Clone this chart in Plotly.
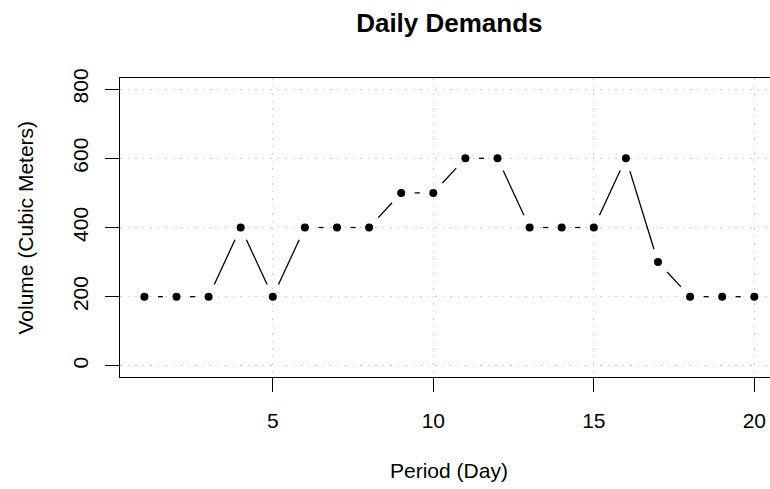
import plotly.graph_objects as go

# Daily demand series
days = list(range(1, 21))
volumes = [200, 200, 200, 400, 200, 400, 400, 400, 500, 500,
           600, 600, 400, 400, 400, 600, 300, 200, 200, 200]
x_ticks = [5, 10, 15, 20]
y_ticks = [0, 200, 400, 600, 800]

# Figure geometry (pixels)
W, H = 770, 489
M_L, M_R, M_T, M_B = 120, 0, 78, 112
PW, PH = W - M_L - M_R, H - M_T - M_B

# Axis ranges with 4% padding on each side
x_lo, x_hi_full = 1 - 0.04 * 19, 20 + 0.04 * 19
px_per_x = 32.1
x_hi = x_lo + PW / px_per_x
y_lo, y_hi = 0 - 0.04 * 800, 800 + 0.04 * 800
px_per_y = PH / (y_hi - y_lo)

# Connecting segments, trimmed near each point (type "b" look)
GAP = 13.5
seg_x, seg_y = [], []
for i in range(len(days) - 1):
    x0, y0, x1, y1 = days[i], volumes[i], days[i + 1], volumes[i + 1]
    dxp = (x1 - x0) * px_per_x
    dyp = (y1 - y0) * px_per_y
    L = (dxp ** 2 + dyp ** 2) ** 0.5
    if L <= 2 * GAP:
        continue
    f = GAP / L
    seg_x += [x0 + (x1 - x0) * f, x1 - (x1 - x0) * f, None]
    seg_y += [y0 + (y1 - y0) * f, y1 - (y1 - y0) * f, None]

fig = go.Figure()
fig.add_trace(go.Scatter(x=seg_x, y=seg_y, mode="lines",
                         line=dict(color="black", width=1.3),
                         hoverinfo="skip", showlegend=False))
fig.add_trace(go.Scatter(x=days, y=volumes, mode="markers",
                         marker=dict(color="black", size=8),
                         showlegend=False))

FONT = "Liberation Sans, Arial, sans-serif"
GRID = dict(showgrid=True, gridcolor="#cfcfcf", griddash="1.5px,6px", gridwidth=1.2)
fig.update_layout(
    width=W, height=H,
    margin=dict(l=M_L, r=M_R, t=M_T, b=M_B, pad=0),
    paper_bgcolor="white", plot_bgcolor="white",
    font=dict(family=FONT, size=21, color="black"),
    title=dict(text="<b>Daily Demands</b>", font=dict(size=26),
               x=(M_L + (x_hi_full - x_lo) * px_per_x / 2) / W,
               xanchor="center", xref="container",
               y=1 - 23 / H, yanchor="middle", yref="container"),
    xaxis=dict(range=[x_lo, x_hi], tickvals=x_ticks, ticks="outside",
               ticklen=14, tickwidth=1, tickcolor="black",
               showline=True, mirror=True, linecolor="black", linewidth=1.2,
               zeroline=False, ticklabelstandoff=11, **GRID),
    yaxis=dict(range=[y_lo, y_hi], tickvals=y_ticks, ticks="outside",
               ticklen=14, tickwidth=1, tickcolor="black", tickangle=-90,
               showline=True, mirror=False, linecolor="black", linewidth=1.2,
               zeroline=False, ticklabelstandoff=9, **GRID),
    annotations=[
        dict(text="Period (Day)", xref="paper", yref="paper",
             x=(x_hi_full - x_lo) * px_per_x / 2 / PW, y=0, yshift=-93,
             xanchor="center", yanchor="middle", showarrow=False,
             font=dict(size=21)),
        dict(text="Volume (Cubic Meters)", xref="paper", yref="paper",
             x=0, xshift=-95, y=0.5, textangle=-90,
             xanchor="center", yanchor="middle", showarrow=False,
             font=dict(size=21)),
    ],
)

fig.write_html("out.html")
